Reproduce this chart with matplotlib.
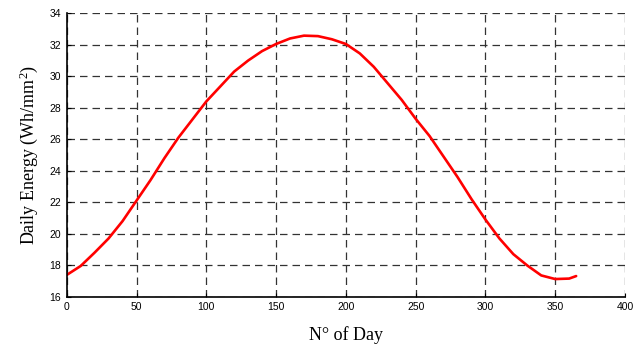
import matplotlib.pyplot as plt
import numpy as np

plt.rcParams['mathtext.fontset'] = 'custom'
plt.rcParams['mathtext.rm'] = 'Liberation Serif'

# Daily energy over the year, sampled every 10 days (plus the last day).
days = [0, 10, 20, 30, 40, 50, 60, 70, 80, 90, 100, 110, 120, 130, 140, 150,
        160, 170, 180, 190, 200, 210, 220, 230, 240, 250, 260, 270, 280, 290,
        300, 310, 320, 330, 340, 350, 360, 365]
energy = [17.38, 17.95, 18.8, 19.7, 20.8, 22.1, 23.4, 24.8, 26.1, 27.25,
          28.4, 29.35, 30.3, 31.0, 31.6, 32.05, 32.4, 32.58, 32.55, 32.35,
          32.05, 31.45, 30.6, 29.55, 28.5, 27.3, 26.2, 24.9, 23.6, 22.2,
          20.9, 19.7, 18.7, 17.98, 17.35, 17.12, 17.15, 17.31]

xticks = list(range(0, 401, 50))
yticks = list(range(16, 35, 2))

fig = plt.figure(figsize=(6.44, 3.47), dpi=100)
ax = fig.add_axes([0.1036, 0.145, 0.8669, 0.8167])

ax.plot(days, energy, color='#ff0000', linewidth=1.9,
        solid_capstyle='round', solid_joinstyle='round')

ax.set_xlim(0, 400)
ax.set_ylim(16, 34)
ax.set_xticks(xticks)
ax.set_yticks(yticks)
ax.tick_params(direction='in', length=3, width=0.8, labelsize=7.5, pad=4)
for lab in ax.get_xticklabels() + ax.get_yticklabels():
    lab.set_family('Liberation Sans')

ax.grid(True, color='#333333', linestyle=(0, (6, 4)), linewidth=0.9)
for side in ('top', 'right'):
    ax.spines[side].set_visible(False)
for side in ('left', 'bottom'):
    ax.spines[side].set_linewidth(1.2)

ax.set_xlabel('N\u00b0 of Day', family='Liberation Serif', fontsize=13, labelpad=10)
ax.set_ylabel(r'Daily Energy (Wh/mm$\mathregular{^2}$)', family='Liberation Serif',
              fontsize=13, labelpad=7)

fig.savefig('out.png', dpi=100)
